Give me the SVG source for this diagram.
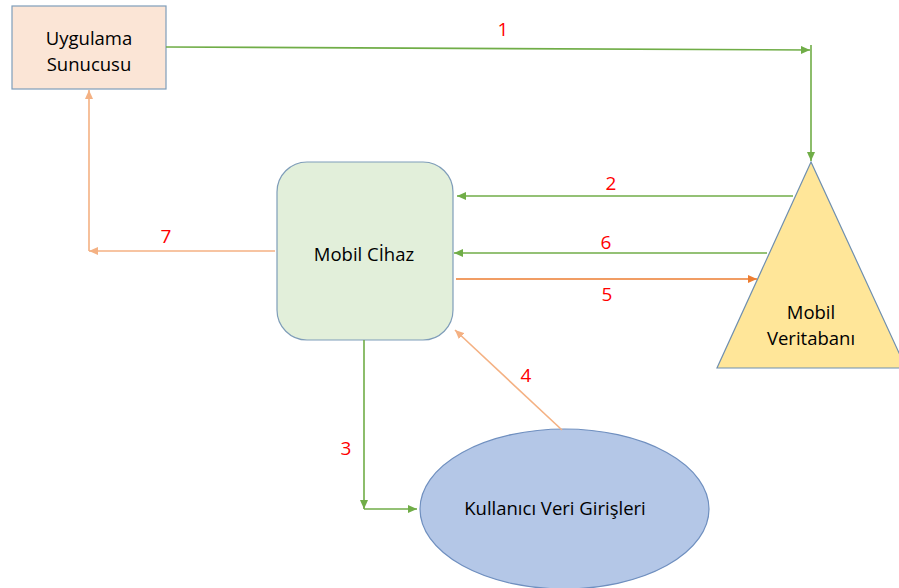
<svg xmlns="http://www.w3.org/2000/svg" width="899" height="588" viewBox="0 0 899 588">
<style>
.lbl{font-family:"Open Sans","Liberation Sans",sans-serif;font-size:18.5px;fill:#000;text-anchor:middle}
.num{font-family:"Open Sans","Liberation Sans",sans-serif;font-size:19px;fill:#FF0000;text-anchor:middle}
.g{stroke:#70AD47;stroke-width:1.6;fill:none}
.o{stroke:#ED7D31;stroke-width:1.6;fill:none}
.lo{stroke:#F4B183;stroke-width:1.6;fill:none}
</style>
<defs>
<marker id="ag" markerUnits="userSpaceOnUse" markerWidth="10" markerHeight="8" refX="9" refY="4" orient="auto"><path d="M0,0 L9,4 L0,8 Z" fill="#70AD47"/></marker>
<marker id="ao" markerUnits="userSpaceOnUse" markerWidth="10" markerHeight="8" refX="9" refY="4" orient="auto"><path d="M0,0 L9,4 L0,8 Z" fill="#ED7D31"/></marker>
<marker id="alo" markerUnits="userSpaceOnUse" markerWidth="10" markerHeight="8" refX="9" refY="4" orient="auto"><path d="M0,0 L9,4 L0,8 Z" fill="#F4B183"/></marker>
</defs>
<rect width="899" height="588" fill="#fff"/>
<g id="uygulama-sunucusu">
<rect x="12" y="6" width="154" height="83" fill="#FBE5D6" stroke="#7F9DB9" stroke-width="1.2"/>
<text class="lbl" x="89" y="45">Uygulama</text>
<text class="lbl" x="89" y="71">Sunucusu</text>
</g>
<g id="mobil-veritabani">
<path d="M811,162 L717,368 L906,368 Z" fill="#FFE699" stroke="#6F8FAF" stroke-width="1.2"/>
<text class="lbl" x="811" y="319">Mobil</text>
<text class="lbl" x="811" y="345">Veritabanı</text>
</g>
<g id="mobil-cihaz">
<rect x="277" y="162" width="176" height="178" rx="30" ry="30" fill="#E2EFDA" stroke="#7F9DB9" stroke-width="1.2"/>
<text class="lbl" x="364" y="261">Mobil Cİhaz</text>
</g>
<g id="kullanici-veri-girisleri">
<ellipse cx="564.5" cy="509" rx="144.5" ry="80" fill="#B4C7E7" stroke="#6F8FBF" stroke-width="1.2"/>
<text class="lbl" x="555" y="515">Kullanıcı Veri Girişleri</text>
</g>
<g id="connectors">
<path class="g" d="M166,47 L810,50" marker-end="url(#ag)"/>
<path class="g" d="M811,45 L811,161" marker-end="url(#ag)"/>
<path class="g" d="M793,196 L457,196" marker-end="url(#ag)"/>
<path class="g" d="M767,253 L454,253" marker-end="url(#ag)"/>
<path class="o" d="M456,279 L757,279" marker-end="url(#ao)"/>
<path class="lo" d="M275,251 L89,251" marker-end="url(#alo)"/>
<path class="lo" d="M89,251 L89,90" marker-end="url(#alo)"/>
<path class="g" d="M364,340 L364,509" marker-end="url(#ag)"/>
<path class="g" d="M364,509 L417,509" marker-end="url(#ag)"/>
<path class="lo" d="M562,430 L455,330" marker-end="url(#alo)"/>
<text class="num" x="503" y="36">1</text>
<text class="num" x="611" y="190">2</text>
<text class="num" x="346" y="455">3</text>
<text class="num" x="526" y="382">4</text>
<text class="num" x="607" y="301">5</text>
<text class="num" x="606" y="249">6</text>
<text class="num" x="166" y="243">7</text>
</g>
</svg>
